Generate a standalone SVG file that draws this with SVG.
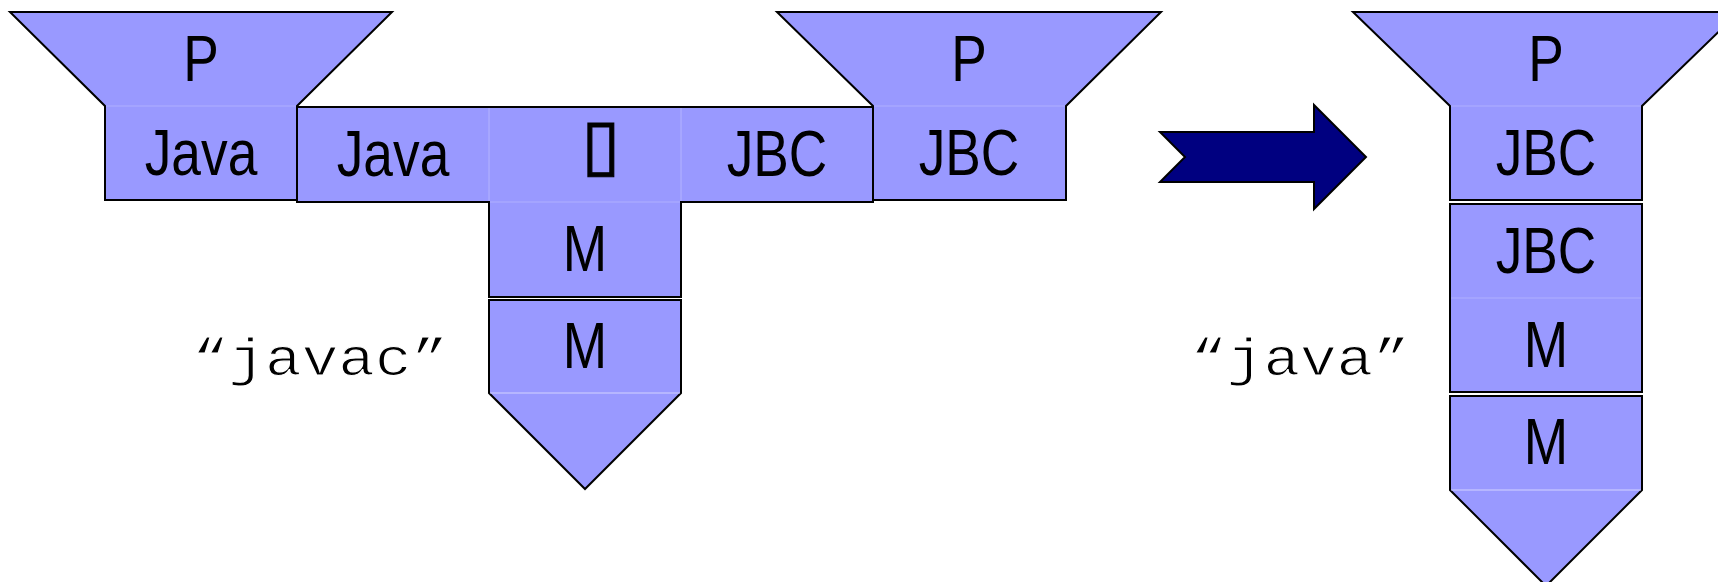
<svg xmlns="http://www.w3.org/2000/svg" width="1718" height="582" viewBox="0 0 1718 582">
<style>
.shape{fill:#9999ff;stroke:#000;stroke-width:2;stroke-linejoin:miter}
.div{stroke:#b0b0ff;stroke-width:1.2;fill:none}
.divw{stroke:#d4d4ff;stroke-width:1.2;fill:none}
.lbl{font-family:"Liberation Sans",Arial,sans-serif;font-size:65px;text-anchor:middle;fill:#000}
.mono{font-family:"Liberation Mono","Courier New",monospace;font-size:61px;text-anchor:middle;fill:#000;stroke:#fff;stroke-width:1.3}
.arrow{fill:#000080;stroke:#000;stroke-width:2}
.tofu{font-family:"DejaVu Sans",sans-serif;font-size:70px;text-anchor:middle;fill:#000;stroke:#000;stroke-width:1.2}
</style>
<rect width="1718" height="582" fill="#fff"/>
<g id="tdiag-java-p">
<polygon class="shape" points="10,12 392,12 297,106 297,200 105,200 105,106"/>
<line class="div" x1="106" y1="106" x2="296" y2="106"/>
<text class="lbl" transform="translate(201 81) scale(0.82 1)">P</text>
<text class="lbl" transform="translate(201 175) scale(0.82 1)">Java</text>
</g>
<g id="tdiag-javac">
<polygon class="shape" points="297,107 873,107 873,202 681,202 681,297 489,297 489,202 297,202"/>
<line class="div" x1="489" y1="108" x2="489" y2="201"/>
<line class="div" x1="681" y1="108" x2="681" y2="201"/>
<line class="div" x1="490" y1="202" x2="680" y2="202"/>
<text class="lbl" transform="translate(393 176) scale(0.82 1)">Java</text>
<text class="tofu" x="601" y="168">▯</text>
<text class="lbl" transform="translate(777 176) scale(0.82 1)">JBC</text>
<text class="lbl" transform="translate(585 271) scale(0.82 1)">M</text>
</g>
<g id="tdiag-jbc-p">
<polygon class="shape" points="777,12 1161,12 1066,106 1066,200 873,200 873,106"/>
<line class="div" x1="874" y1="106" x2="1065" y2="106"/>
<text class="lbl" transform="translate(969 81) scale(0.82 1)">P</text>
<text class="lbl" transform="translate(969 175) scale(0.82 1)">JBC</text>
</g>
<g id="tdiag-machine-1">
<polygon class="shape" points="489,300 681,300 681,393 585,489 489,393"/>
<line class="divw" x1="490" y1="393" x2="680" y2="393"/>
<text class="lbl" transform="translate(585 368) scale(0.82 1)">M</text>
</g>
<g id="label-javac">
<text class="mono" transform="translate(320 375) scale(1 0.84)">“javac”</text>
</g>
<g id="connectors">
<polygon class="arrow" points="1160,132 1314,132 1314,105 1366,157 1314,209 1314,182 1160,182 1185,157"/>
</g>
<g id="tdiag-jbc-p-run">
<polygon class="shape" points="1353,12 1739,12 1642,106 1642,200 1450,200 1450,106"/>
<line class="div" x1="1451" y1="106" x2="1641" y2="106"/>
<text class="lbl" transform="translate(1546 81) scale(0.82 1)">P</text>
<text class="lbl" transform="translate(1546 175) scale(0.82 1)">JBC</text>
</g>
<g id="tdiag-jvm">
<rect class="shape" x="1450" y="204" width="192" height="188"/>
<line class="div" x1="1451" y1="298" x2="1641" y2="298"/>
<text class="lbl" transform="translate(1546 273) scale(0.82 1)">JBC</text>
<text class="lbl" transform="translate(1546 367) scale(0.82 1)">M</text>
</g>
<g id="tdiag-machine-2">
<polygon class="shape" points="1450,396 1642,396 1642,490 1546,586 1450,490"/>
<line class="divw" x1="1451" y1="490" x2="1641" y2="490"/>
<text class="lbl" transform="translate(1546 464) scale(0.82 1)">M</text>
</g>
<g id="label-java">
<text class="mono" transform="translate(1300 375) scale(1 0.84)">“java”</text>
</g>
</svg>
